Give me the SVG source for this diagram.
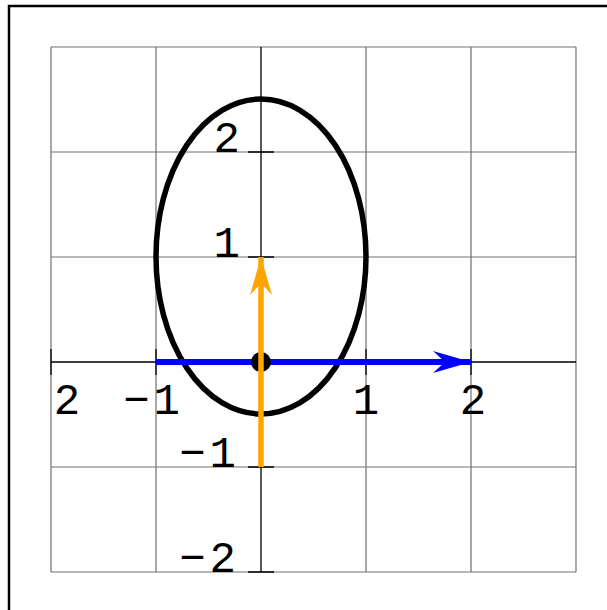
<svg xmlns="http://www.w3.org/2000/svg" width="607" height="610" viewBox="0 0 607 610">
<style>
.grid{stroke:#707070;stroke-width:1.2;fill:none}
.axis{stroke:#000;stroke-width:1.3;fill:none}
.lbl{font-family:"Liberation Mono","DejaVu Sans Mono",monospace;font-size:44px;fill:#000}
</style>
<defs>
<marker id="ab" markerUnits="userSpaceOnUse" markerWidth="40" markerHeight="24" refX="38" refY="12" orient="auto" viewBox="0 0 40 24">
<path d="M38,12 L0,1 L12,12 L0,23 Z" fill="#0000ff"/>
</marker>
<marker id="ao" markerUnits="userSpaceOnUse" markerWidth="40" markerHeight="24" refX="38" refY="12" orient="auto" viewBox="0 0 40 24">
<path d="M38,12 L0,1 L12,12 L0,23 Z" fill="#ffa500"/>
</marker>
</defs>
<rect x="9" y="6" width="700" height="700" fill="#fff" stroke="#000" stroke-width="2.5"/>
<g id="grid">
<path class="grid" d="M51,47V572M156,47V572M366,47V572M471,47V572M576,47V572M51,47H576M51,152H576M51,257H576M51,467H576M51,572H576"/>
</g>
<g id="axes">
<path class="axis" d="M51,362H576M261,47V572"/>
<path class="axis" d="M51,349V375M156,349V375M366,349V375M471,349V375M248,152H274M248,257H274M248,467H274M248,572H274"/>
<text class="lbl" x="67" y="414" text-anchor="middle">2</text>
<text class="lbl" x="184" y="414" text-anchor="end" letter-spacing="4">−1</text>
<text class="lbl" x="366" y="414" text-anchor="middle">1</text>
<text class="lbl" x="473" y="414" text-anchor="middle">2</text>
<text class="lbl" x="240" y="152" text-anchor="end">2</text>
<text class="lbl" x="240" y="257" text-anchor="end">1</text>
<text class="lbl" x="240" y="467" text-anchor="end" letter-spacing="4">−1</text>
<text class="lbl" x="240" y="572" text-anchor="end" letter-spacing="4">−2</text>
</g>
<g id="ellipse">
<ellipse cx="261" cy="256.5" rx="105" ry="157.5" fill="none" stroke="#000" stroke-width="5.5"/>
</g>
<g id="connectors">
<line x1="156" y1="362" x2="471" y2="362" stroke="#0000ff" stroke-width="6" marker-end="url(#ab)"/>
<circle id="origin" cx="261" cy="362" r="10" fill="#000"/>
<line x1="261" y1="467" x2="261" y2="257" stroke="#ffa500" stroke-width="5.5" marker-end="url(#ao)"/>
</g>
</svg>
